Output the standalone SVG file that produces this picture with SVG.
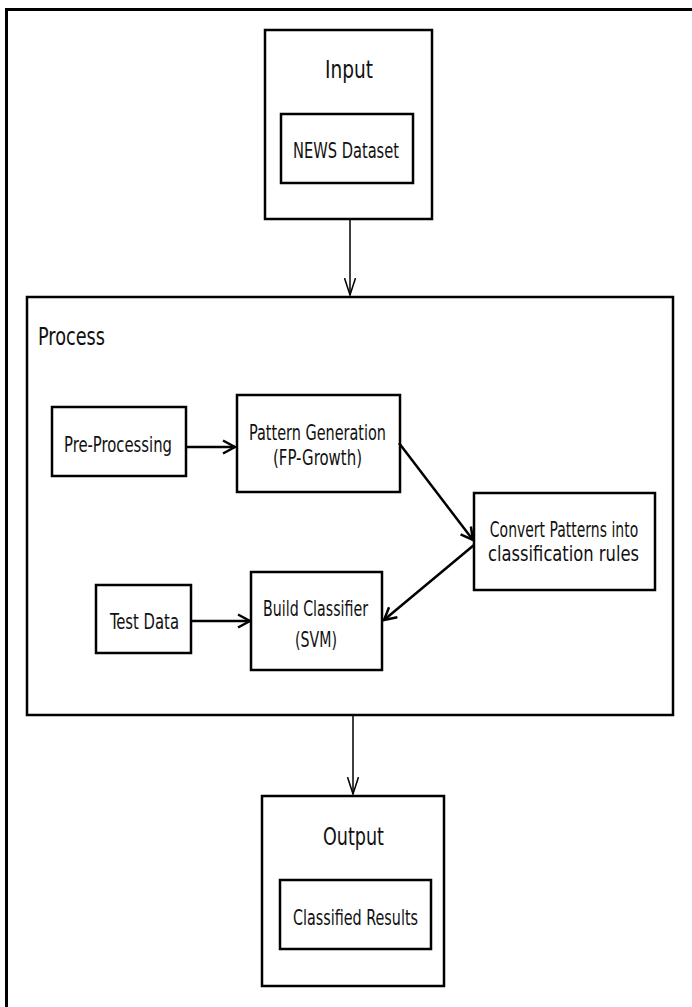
<svg xmlns="http://www.w3.org/2000/svg" width="692" height="1007" viewBox="0 0 692 1007">
<style>
  .box { fill: #fff; stroke: #000; stroke-width: 2.5; }
  .t { font-family: "DejaVu Sans Condensed", "DejaVu Sans", sans-serif; fill: #111; text-anchor: middle; }
  .h { font-size: 25px; }
  .s { font-size: 22px; }
  .thin { fill: none; stroke: #000; stroke-width: 1.5; }
  .thick { fill: none; stroke: #000; stroke-width: 2.5; }
</style>
<defs>
  <marker id="ahThin" markerUnits="userSpaceOnUse" viewBox="0 0 18 12" markerWidth="18" markerHeight="12" refX="17" refY="6" orient="auto">
    <path d="M0,0.5 L17,6 L0,11.5" fill="none" stroke="#000" stroke-width="1.5"/>
  </marker>
  <marker id="ahThick" markerUnits="userSpaceOnUse" viewBox="0 0 15 16" markerWidth="15" markerHeight="16" refX="13" refY="8" orient="auto">
    <path d="M1,1.5 L13,8 L1,14.5" fill="none" stroke="#000" stroke-width="2.5"/>
  </marker>
</defs>
<rect x="0" y="0" width="692" height="1007" fill="#fff"/>
<g id="frame">
  <path d="M6.5,1007 L6.5,9.5 L692,9.5" fill="none" stroke="#000" stroke-width="3"/>
</g>

<g id="input">
  <rect class="box" x="265" y="30" width="167" height="189"/>
  <text class="t h" x="349" y="78" textLength="48" lengthAdjust="spacingAndGlyphs">Input</text>
  <g id="news-dataset">
    <rect class="box" x="281" y="114" width="132" height="69"/>
    <text class="t s" x="346" y="158" textLength="106" lengthAdjust="spacingAndGlyphs">NEWS Dataset</text>
  </g>
</g>

<g id="process">
  <rect class="box" x="27" y="297" width="646" height="418"/>
  <text class="t h" x="38" y="345" style="text-anchor:start" textLength="67" lengthAdjust="spacingAndGlyphs">Process</text>
</g>

<g id="pre-processing">
  <rect class="box" x="52" y="407" width="134" height="69"/>
  <text class="t s" x="118" y="452" textLength="108" lengthAdjust="spacingAndGlyphs">Pre-Processing</text>
</g>

<g id="pattern-generation">
  <rect class="box" x="237" y="395" width="163" height="97"/>
  <text class="t s" x="317.5" y="440" textLength="137" lengthAdjust="spacingAndGlyphs">Pattern Generation</text>
  <text class="t s" x="317.5" y="465" textLength="89" lengthAdjust="spacingAndGlyphs">(FP-Growth)</text>
</g>

<g id="convert-patterns">
  <rect class="box" x="474" y="493" width="181" height="97"/>
  <text class="t" font-size="21" transform="translate(564,537) scale(0.74,1)" x="0" y="0">Convert Patterns into</text>
  <text class="t s" x="563.5" y="561" textLength="151" lengthAdjust="spacingAndGlyphs">classification rules</text>
</g>

<g id="test-data">
  <rect class="box" x="96" y="585" width="95" height="68"/>
  <text class="t s" x="144.5" y="629" textLength="69" lengthAdjust="spacingAndGlyphs">Test Data</text>
</g>

<g id="build-classifier">
  <rect class="box" x="251" y="572" width="131" height="98"/>
  <text class="t s" x="315.5" y="616" textLength="105" lengthAdjust="spacingAndGlyphs">Build Classifier</text>
  <text class="t s" x="316" y="647" textLength="42" lengthAdjust="spacingAndGlyphs">(SVM)</text>
</g>

<g id="output">
  <rect class="box" x="262" y="796" width="182" height="190"/>
  <text class="t h" x="353.5" y="845" textLength="61" lengthAdjust="spacingAndGlyphs">Output</text>
  <g id="classified-results">
    <rect class="box" x="280" y="880" width="151" height="69"/>
    <text class="t s" x="355.5" y="925" textLength="125" lengthAdjust="spacingAndGlyphs">Classified Results</text>
  </g>
</g>

<g id="connectors">
  <line class="thin" x1="350" y1="219" x2="350" y2="295" marker-end="url(#ahThin)"/>
  <line class="thin" x1="353" y1="715" x2="353" y2="794" marker-end="url(#ahThin)"/>
  <line class="thick" x1="186" y1="447" x2="235" y2="447" marker-end="url(#ahThick)"/>
  <line class="thick" x1="191" y1="621" x2="250" y2="621" marker-end="url(#ahThick)"/>
  <line class="thick" x1="399" y1="443" x2="473" y2="540" marker-end="url(#ahThick)"/>
  <line class="thick" x1="474" y1="545" x2="384" y2="620" marker-end="url(#ahThick)"/>
</g>
</svg>
